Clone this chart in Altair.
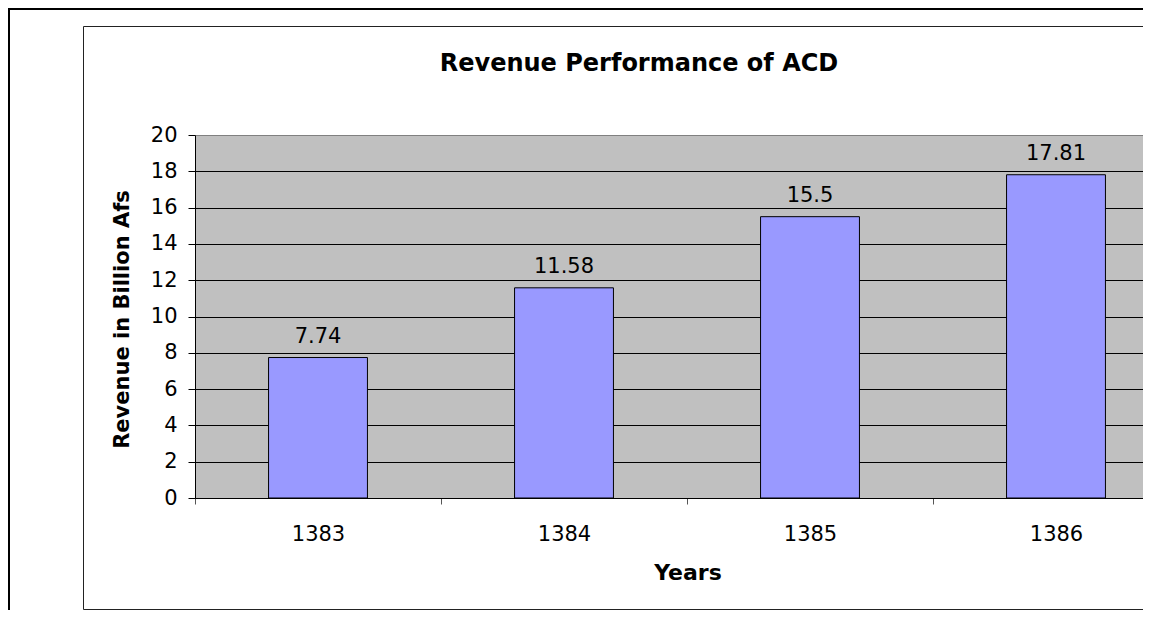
import altair as alt
import pandas as pd

# ---- data ----
years = ["1383", "1384", "1385", "1386"]
revenue = [7.74, 11.58, 15.5, 17.81]
y_ticks = [0, 2, 4, 6, 8, 10, 12, 14, 16, 18, 20]
title_text = "Revenue Performance of ACD"
x_title = "Years"
y_title = "Revenue in Billion Afs"

df = pd.DataFrame({"year": years, "revenue": revenue})
one = pd.DataFrame({"t": [title_text]})

PLOT_W = 948
PLOT_H = 363
FULL_RANGE = 984
FONT = "DejaVu Sans"

x_scale = alt.Scale(range=[0, FULL_RANGE], paddingInner=0, paddingOuter=0)
y_scale = alt.Scale(domain=[0, 20], nice=False, zero=True)

x_enc = alt.X(
    "year:N",
    sort=years,
    scale=x_scale,
    axis=alt.Axis(
        title=x_title,
        tickBand="extent",
        labelAngle=0,
        labelFont=FONT,
        labelFontSize=21,
        labelColor="black",
        labelPadding=19,
        labelOverlap=False,
        tickSize=6,
        tickColor="#555555",
        domainColor="black",
        domainWidth=1,
        titleFont=FONT,
        titleFontWeight="bold",
        titleFontSize=22,
        titleColor="black",
        titleX=492.5,
        titleY=81,
        titleBaseline="alphabetic",
        titleAlign="center",
        grid=False,
    ),
)

y_enc = alt.Y(
    "revenue:Q",
    scale=y_scale,
    axis=alt.Axis(
        title=y_title,
        values=y_ticks,
        tickCount=11,
        grid=True,
        gridColor={"condition": {"test": "datum.value === 20", "value": "#808080"}, "value": "black"},
        gridOpacity=1,
        gridWidth=1,
        domainColor="black",
        domainWidth=1,
        tickColor="black",
        tickSize=7,
        labelPadding=11,
        labelOverlap=False,
        labelFont=FONT,
        labelFontSize=21,
        labelColor="black",
        titleFont=FONT,
        titleFontWeight="bold",
        titleFontSize=21,
        titleColor="black",
        titleX=-67,
        titleY=184,
        titleAngle=270,
        titleBaseline="alphabetic",
        titleAlign="center",
    ),
)

bars = alt.Chart(df).mark_bar(
    color="#9999FF", stroke="black", strokeWidth=1,
    width=alt.RelativeBandSize(0.402),
).encode(x=x_enc, y=y_enc)

labels = alt.Chart(df).mark_text(
    baseline="alphabetic", dy=-15, font=FONT, fontSize=21, color="black"
).encode(x=x_enc, y=y_enc, text="revenue:Q")

title = alt.Chart(one).mark_text(
    font=FONT, fontWeight="bold", fontSize=24, baseline="alphabetic",
    align="center", color="black",
).encode(x=alt.value(444), y=alt.value(-64.3), text="t:N")

frame_df = pd.DataFrame({"k": [0]})
outer_left = alt.Chart(frame_df).mark_rule(color="black", strokeWidth=2).encode(
    x=alt.value(-186), y=alt.value(-130), y2=alt.value(490))
outer_top = alt.Chart(frame_df).mark_rule(color="black", strokeWidth=2).encode(
    x=alt.value(-190), x2=alt.value(1000), y=alt.value(-126))
inner_left = alt.Chart(frame_df).mark_rule(color="#222222", strokeWidth=1).encode(
    x=alt.value(-111.5), y=alt.value(-108.5), y2=alt.value(474.5))
inner_top = alt.Chart(frame_df).mark_rule(color="#222222", strokeWidth=1).encode(
    x=alt.value(-111.5), x2=alt.value(1000), y=alt.value(-108.5))
inner_bottom = alt.Chart(frame_df).mark_rule(color="#222222", strokeWidth=1).encode(
    x=alt.value(-111.5), x2=alt.value(1000), y=alt.value(474.5))

chart = alt.layer(
    bars, labels, title, outer_left, outer_top, inner_left, inner_top, inner_bottom
).properties(
    width=PLOT_W,
    height=PLOT_H,
    autosize=alt.AutoSizeParams(type="none"),
    padding={"left": 187, "top": 127, "right": 0, "bottom": 112},
    background="white",
).configure_view(
    fill="#C0C0C0", stroke="transparent"
)

chart.save("out.html", embed_options={"renderer": "svg", "actions": False})
